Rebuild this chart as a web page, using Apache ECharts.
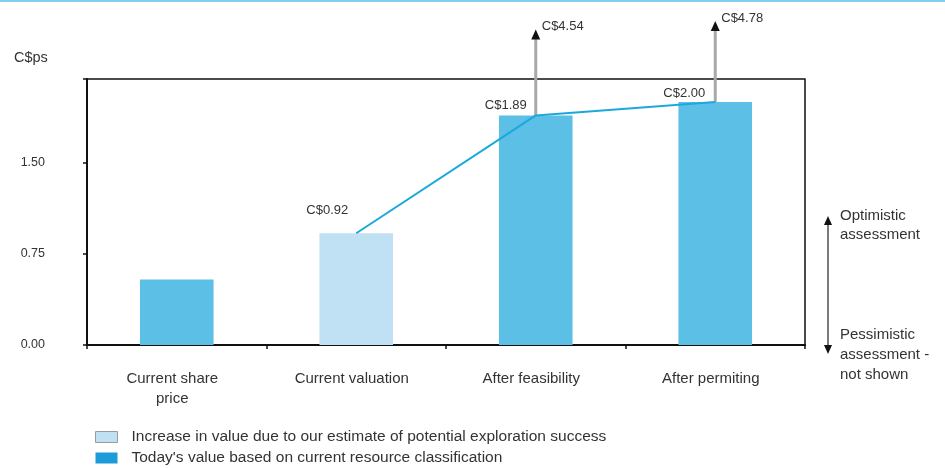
<!DOCTYPE html>
<html>
<head>
<meta charset="utf-8">
<script src="https://cdn.jsdelivr.net/npm/echarts@6/dist/echarts.min.js"></script>
<style>
  html, body { margin: 0; padding: 0; background: #fff; }
  #chart { width: 945px; height: 468px; }
</style>
</head>
<body>
<div id="chart"></div>
<script>
// Valuation steps, C$ per share
const categories = ['Current share\nprice', 'Current valuation', 'After feasibility', 'After permiting'];
const todayValue = [0.54, null, 1.89, 2.00];          // current resource classification
const explorationValue = [null, 0.92, null, null];    // incl. potential exploration success
const pathValue = [null, 0.92, 1.89, 2.00];           // connecting line over the bars
const upsideValue = [[2, 1.89, 4.54], [3, 2.00, 4.78]]; // [category, base, optimistic]
const yTicks = [0, 0.75, 1.5];

const seriesNames = [
  'Increase in value due to our estimate of potential exploration success',
  "Today's value based on current resource classification"
];

const FONT = 'Liberation Sans, Arial, sans-serif';
const TEXT = '#333';
const DARK_BAR = '#5cbfe6';
const LIGHT_BAR = '#bfe1f3';
const LINE = '#1aa8dd';

// label placement for the path points (offsets from each point)
const pathLabelOffset = [null, [-29, -11], [-30, 1], [-31, 3]];
// upside arrows are drawn off-scale; pixel length of each arrow
const upsideArrowLen = [86, 81];

const chart = echarts.init(document.getElementById('chart'), null, { renderer: 'canvas' });

const option = {
  animation: false,
  backgroundColor: '#fff',
  textStyle: { fontFamily: FONT, color: TEXT },
  grid: {
    left: 87, right: 140, top: 79, bottom: 123,
    show: true, borderColor: '#111', borderWidth: 1.5, backgroundColor: 'transparent'
  },
  legend: {
    orient: 'vertical',
    left: 95, top: 428, height: 44,
    padding: 0,
    itemWidth: 22, itemHeight: 11, itemGap: 3,
    icon: 'rect',
    selectedMode: false,
    textStyle: { fontFamily: FONT, fontSize: 15.5, lineHeight: 18, color: TEXT, padding: [0, 0, 0, 9] },
    data: [
      { name: seriesNames[0], itemStyle: { color: LIGHT_BAR, borderColor: '#9a9a9a', borderWidth: 1 } },
      { name: seriesNames[1], itemStyle: { color: '#1b9bd7' } }
    ]
  },
  xAxis: {
    type: 'category',
    data: categories,
    axisLine: { lineStyle: { color: '#111', width: 2 } },
    axisTick: { show: true, length: 4, lineStyle: { color: '#111', width: 1.5 } },
    axisLabel: { margin: 24, fontSize: 15, color: TEXT, lineHeight: 20, fontFamily: FONT,
                 padding: [0, 9, 0, 0] }
  },
  yAxis: {
    type: 'value',
    min: 0, max: 2.19, interval: 0.75,
    splitLine: { show: false },
    axisLine: { show: true, lineStyle: { color: '#111', width: 2 } },
    axisTick: { show: true, length: 4, lineStyle: { color: '#111', width: 1.5 } },
    axisLabel: {
      margin: 42, fontSize: 12.5, color: TEXT, fontFamily: FONT,
      formatter: v => (yTicks.some(t => Math.abs(t - v) < 1e-6) ? v.toFixed(2) : '')
    }
  },
  series: [
    {
      name: seriesNames[1],
      type: 'bar',
      data: todayValue,
      barWidth: '41%',
      barGap: '-100%',
      itemStyle: { color: DARK_BAR },
      z: 2
    },
    {
      name: seriesNames[0],
      type: 'bar',
      data: explorationValue,
      barWidth: '41%',
      barGap: '-100%',
      itemStyle: { color: LIGHT_BAR },
      z: 2
    },
    {
      name: 'path',
      type: 'line',
      data: pathValue.map((v, i) => v == null ? null : {
        value: v,
        label: { offset: pathLabelOffset[i] }
      }),
      symbol: 'circle',
      symbolSize: 0,
      showSymbol: true,
      itemStyle: { color: LINE },
      lineStyle: { color: LINE, width: 2 },
      label: {
        show: true, position: 'top', fontSize: 13, color: TEXT, fontFamily: FONT,
        formatter: p => 'C$' + p.value.toFixed(2)
      },
      z: 4
    },
    {
      name: 'upside',
      type: 'custom',
      data: upsideValue,
      z: 3,
      clip: false,
      renderItem: (params, api) => {
        const base = api.coord([api.value(0), api.value(1)]);
        const tipY = base[1] - upsideArrowLen[params.dataIndex];
        const x = base[0];
        return {
          type: 'group',
          children: [
            { type: 'line', shape: { x1: x, y1: base[1], x2: x, y2: tipY + 8 },
              style: { stroke: '#a9a9a9', lineWidth: 3 } },
            { type: 'polygon', shape: { points: [[x, tipY], [x - 4.5, tipY + 10], [x + 4.5, tipY + 10]] },
              style: { fill: '#111' } },
            { type: 'text', x: x + 6, y: tipY - 3,
              style: { text: 'C$' + api.value(2).toFixed(2), fill: TEXT, font: '13px ' + FONT,
                       textVerticalAlign: 'middle' } }
          ]
        };
      }
    }
  ],
  graphic: [
    { type: 'rect', left: 0, top: 0, shape: { width: 945, height: 2 }, style: { fill: '#7fd0ee' } },
    { type: 'text', left: 14, top: 50, style: { text: 'C$ps', font: '14.5px ' + FONT, fill: TEXT } },
    // optimistic / pessimistic scale on the right
    { type: 'line', shape: { x1: 828, y1: 224, x2: 828, y2: 346 }, style: { stroke: '#222', lineWidth: 1.2 } },
    { type: 'polygon', shape: { points: [[828, 216], [824, 225], [832, 225]] }, style: { fill: '#111' } },
    { type: 'polygon', shape: { points: [[828, 354], [824, 345], [832, 345]] }, style: { fill: '#111' } },
    { type: 'text', left: 840, top: 206,
      style: { text: 'Optimistic\nassessment', font: '15px ' + FONT, fill: TEXT, lineHeight: 19 } },
    { type: 'text', left: 840, top: 325,
      style: { text: 'Pessimistic\nassessment -\nnot shown', font: '15px ' + FONT, fill: TEXT, lineHeight: 20 } }
  ]
};

chart.setOption(option);
</script>
</body>
</html>
